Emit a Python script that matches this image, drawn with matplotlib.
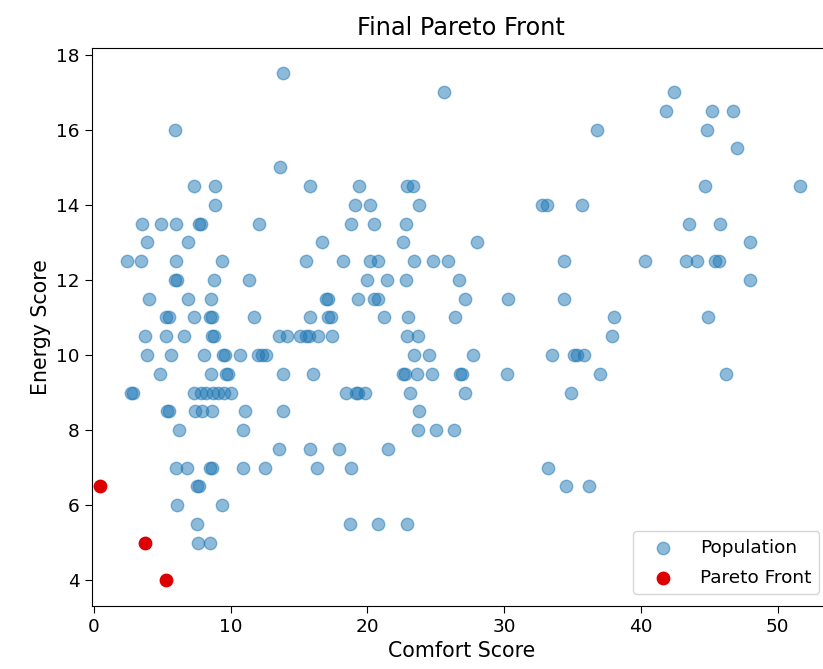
import numpy as np
import matplotlib
matplotlib.use("Agg")
import matplotlib.pyplot as plt

# population, grouped by energy score row (scores come in steps of 0.5)
rows = {
    17.5: [13.8],
    17.0: [25.6, 42.4],
    16.5: [41.8, 45.2, 46.7],
    16.0: [5.9, 36.8, 44.8],
    15.5: [47.0],
    15.0: [13.6],
    14.5: [7.3, 8.85, 15.8, 19.4, 22.9, 23.3, 44.7, 51.6],
    14.0: [8.85, 19.1, 20.2, 23.8, 32.8, 33.1, 35.7],
    13.5: [3.5, 4.9, 6.0, 7.7, 7.8, 12.1, 18.8, 20.5, 22.8, 43.5, 45.8],
    13.0: [3.85, 6.9, 16.7, 22.6, 28.0, 48.0],
    12.5: [2.4, 3.45, 6.0, 9.35, 15.5, 18.2, 20.2, 20.8, 23.4, 24.8, 25.9,
           34.4, 40.3, 43.3, 44.1, 45.4, 45.7],
    12.0: [5.95, 6.05, 8.8, 11.3, 19.95, 21.4, 22.8, 26.7, 48.0],
    11.5: [4.0, 6.9, 8.55, 16.95, 17.1, 19.3, 20.5, 20.8, 27.1, 30.3, 34.4],
    11.0: [5.3, 5.45, 7.3, 8.5, 8.65, 11.7, 15.8, 17.1, 17.3, 21.2, 23.0,
           26.4, 38.0, 44.9],
    10.5: [3.7, 5.3, 6.6, 8.6, 8.75, 13.5, 14.1, 15.1, 15.5, 15.7, 16.4,
           17.4, 22.9, 23.7, 37.9],
    10.0: [3.85, 5.6, 8.05, 9.4, 9.55, 10.7, 12.0, 12.3, 12.6, 23.4, 24.5,
           27.7, 33.5, 35.1, 35.3, 35.8],
    9.5: [4.8, 8.55, 9.65, 9.8, 13.8, 16.05, 22.6, 22.75, 23.6, 24.7, 26.75,
          26.9, 30.2, 37.0, 46.2],
    9.0: [2.7, 2.85, 7.3, 7.8, 8.2, 8.7, 9.1, 9.5, 10.0, 18.4, 19.15, 19.3,
          19.8, 23.1, 27.1, 34.9],
    8.5: [5.35, 5.5, 7.4, 7.9, 8.6, 11.05, 13.8, 23.8],
    8.0: [6.2, 10.9, 23.7, 25.0, 26.3],
    7.5: [13.5, 15.8, 17.9, 21.5],
    7.0: [6.0, 6.8, 8.5, 8.6, 10.9, 12.5, 16.3, 18.8, 33.2],
    6.5: [7.5, 7.7, 34.5, 36.2],
    6.0: [6.1, 9.35],
    5.5: [7.55, 18.7, 20.75, 22.9],
    5.0: [7.6, 8.5],
}

comfort = np.array([x for y, xs in rows.items() for x in xs])
energy = np.array([y for y, xs in rows.items() for x in xs])

pareto_comfort = [0.44, 3.7, 5.3]
pareto_energy = [6.5, 5.0, 4.0]

fig = plt.figure(figsize=(8.23, 6.69), dpi=100)
# the reference is cut off on the right, so the axes run past the figure edge
ax = fig.add_axes([0.1114, 0.0946, 0.8983, 0.8337])
ax.spines["right"].set_visible(False)

ax.scatter(comfort, energy, s=80, alpha=0.5, label="Population")
ax.scatter(pareto_comfort, pareto_energy, s=80, color="#dc0000",
           label="Pareto Front")

ax.set_xlim(-0.17, 53.9)
ax.set_xticks([0, 10, 20, 30, 40, 50])
ax.set_yticks([4, 6, 8, 10, 12, 14, 16, 18])
ax.tick_params(labelsize=13.3, length=5)

ax.set_xlabel("Comfort Score", fontsize=14.8)
ax.set_ylabel("Energy Score", fontsize=14.8)
ax.set_title("Final Pareto Front", fontsize=17.3, pad=9)
ax.legend(loc="lower right", fontsize=13.3, handlelength=2.4,
          handletextpad=0.85, labelspacing=0.64, borderpad=0.4,
          borderaxespad=0.63)

fig.savefig("out.png", dpi=100)
